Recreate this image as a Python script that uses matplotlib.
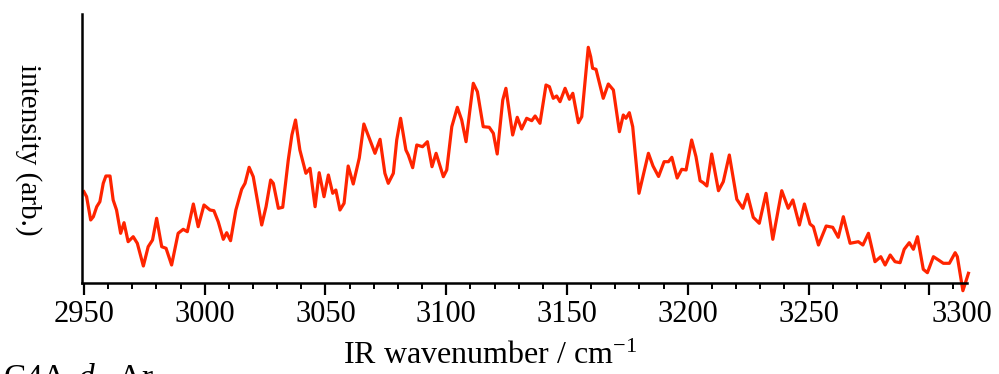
import matplotlib.pyplot as plt
import matplotlib.transforms as mtransforms

plt.rcParams['font.family'] = ['Liberation Serif', 'DejaVu Serif']
plt.rcParams['mathtext.fontset'] = 'custom'
plt.rcParams['mathtext.rm'] = 'Liberation Serif'
plt.rcParams['mathtext.it'] = 'Liberation Serif:italic'

# IR spectrum (wavenumber in cm-1, intensity arb.)
wavenumber = [
    2950.0, 2951.1, 2952.8, 2953.9, 2955.3, 2956.6, 2958.0, 2959.1, 2960.8, 2962.1,
    2963.5, 2965.2, 2966.6, 2968.3, 2970.4, 2972.1, 2974.6, 2976.6, 2978.4, 2980.1,
    2982.2, 2984.0, 2986.3, 2989.0, 2991.1, 2992.8, 2995.3, 2997.3, 2999.7, 3002.2,
    3003.8, 3005.6, 3007.7, 3009.1, 3010.7, 3012.9, 3015.3, 3016.7, 3018.4, 3020.1,
    3023.6, 3025.4, 3027.3, 3028.4, 3030.5, 3032.3, 3034.6, 3036.1, 3037.6, 3039.4,
    3041.9, 3043.6, 3045.7, 3047.4, 3049.4, 3051.2, 3053.0, 3054.3, 3056.0, 3057.7,
    3059.4, 3061.5, 3064.0, 3065.9, 3068.4, 3070.5, 3072.6, 3074.6, 3076.0, 3078.1,
    3079.5, 3081.1, 3083.3, 3084.3, 3086.1, 3087.8, 3090.2, 3092.2, 3094.1, 3095.8,
    3098.8, 3100.2, 3102.3, 3104.6, 3106.4, 3108.2, 3109.8, 3111.2, 3112.9, 3115.3,
    3117.8, 3119.5, 3121.1, 3123.4, 3124.7, 3127.5, 3129.4, 3131.2, 3133.3, 3135.4,
    3136.8, 3138.8, 3141.3, 3142.7, 3144.3, 3145.7, 3147.1, 3149.2, 3151.0, 3152.4,
    3154.7, 3156.1, 3158.8, 3159.8, 3160.6, 3162.0, 3165.0, 3167.1, 3169.2, 3171.7,
    3173.3, 3174.4, 3175.8, 3177.2, 3179.8, 3183.7, 3185.6, 3187.9, 3190.2, 3192.0,
    3193.4, 3195.6, 3197.5, 3199.3, 3201.6, 3203.4, 3205.1, 3206.4, 3207.9, 3209.9,
    3212.7, 3214.7, 3217.2, 3220.3, 3222.8, 3224.7, 3227.1, 3229.6, 3232.4, 3235.2,
    3238.9, 3241.6, 3243.5, 3246.2, 3248.3, 3250.6, 3252.0, 3254.1, 3257.3, 3260.0,
    3262.3, 3264.4, 3267.2, 3270.6, 3272.5, 3274.8, 3277.5, 3279.9, 3281.7, 3283.8,
    3285.8, 3287.9, 3289.6, 3291.7, 3293.4, 3295.1, 3297.5, 3299.2, 3301.7, 3303.8,
    3305.8, 3308.3, 3310.7, 3311.6, 3313.9, 3316.2,
]
intensity = [
    91.3, 86.3, 63.0, 66.3, 76.3, 81.3, 99.7, 107.0, 107.0, 83.0,
    73.0, 49.7, 60.3, 41.3, 46.3, 39.7, 17.0, 36.3, 43.0, 64.7,
    36.3, 34.7, 18.0, 49.7, 53.7, 51.3, 79.0, 56.3, 78.0, 73.0,
    72.3, 61.3, 43.7, 50.3, 42.3, 73.0, 93.7, 99.7, 115.7, 106.3,
    58.0, 76.3, 103.0, 99.7, 74.7, 75.7, 123.0, 148.0, 163.0, 133.0,
    109.7, 114.7, 76.3, 110.3, 86.3, 108.0, 89.7, 93.0, 73.0, 79.7,
    117.0, 99.0, 125.0, 159.0, 143.0, 129.7, 143.7, 109.7, 99.7, 109.7,
    143.0, 164.7, 133.0, 128.0, 115.3, 138.0, 136.3, 141.3, 116.3, 129.7,
    106.3, 113.0, 156.3, 175.7, 163.0, 141.3, 173.0, 199.7, 191.3, 156.3,
    155.7, 149.7, 129.0, 183.0, 194.7, 148.0, 165.7, 154.0, 164.7, 162.3,
    167.0, 159.7, 198.0, 196.3, 184.7, 187.0, 181.3, 194.7, 183.7, 189.7,
    160.3, 166.3, 235.7, 226.3, 214.7, 213.7, 184.7, 199.0, 193.0, 151.3,
    168.0, 164.7, 170.3, 156.3, 89.7, 129.7, 117.0, 106.5, 121.3, 121.3,
    125.7, 105.0, 113.7, 113.0, 143.0, 126.3, 102.3, 100.3, 97.0, 129.0,
    92.3, 101.3, 128.0, 83.7, 74.7, 88.7, 65.7, 59.7, 89.7, 43.7,
    92.3, 74.7, 83.0, 58.0, 79.0, 59.0, 56.3, 38.0, 57.0, 55.7,
    45.7, 66.3, 39.7, 41.3, 38.0, 49.7, 21.3, 26.3, 18.0, 28.0,
    21.3, 20.3, 33.7, 40.3, 33.7, 46.3, 13.7, 10.3, 26.3, 23.0,
    19.7, 19.7, 30.3, 26.3, -7.7, 9.7,
]
major_ticks = [2950, 3000, 3050, 3100, 3150, 3200, 3250, 3300]
minor_ticks = list(range(2950, 3320, 10))

fig = plt.figure(figsize=(9.99, 3.74), dpi=100)
ax = fig.add_axes([82 / 999, 91 / 374, 885 / 999, 269 / 374])

ax.plot(wavenumber, intensity, color='#ff2400', lw=2.3, clip_on=False)

ax.set_xlim(2949.2, 3315.6)
ax.set_ylim(0, 269)

for s in ['top', 'right']:
    ax.spines[s].set_visible(False)
for s in ['left', 'bottom']:
    ax.spines[s].set_linewidth(1.8)

ax.set_yticks([])
ax.set_xticks(major_ticks)
ax.set_xticks(minor_ticks, minor=True)
ax.tick_params(axis='x', which='major', direction='out', length=8.6, width=1.6,
               labelsize=22, pad=4)
ax.tick_params(axis='x', which='minor', direction='out', length=4.3, width=1.4)

# the 3300 label sits to the right of its tick in the original
shift = mtransforms.ScaledTranslation(0.33, 0, fig.dpi_scale_trans)
last = ax.get_xticklabels()[-1]
last.set_transform(last.get_transform() + shift)

fig.text(28 / 999, 1 - 150 / 374, 'intensity (arb.)', rotation=-90,
         ha='center', va='center', fontsize=21)
fig.text(490 / 999, 1 - 356 / 374, 'IR wavenumber / cm$^{-1}$',
         ha='center', va='center', fontsize=23)
# sample name, cut by the bottom edge as in the original
fig.text(3 / 999, -13 / 374, 'C4A-$\\mathit{d}_{8}$-Ar', ha='left',
         va='baseline', fontsize=24)

fig.savefig('out.png', dpi=100)
